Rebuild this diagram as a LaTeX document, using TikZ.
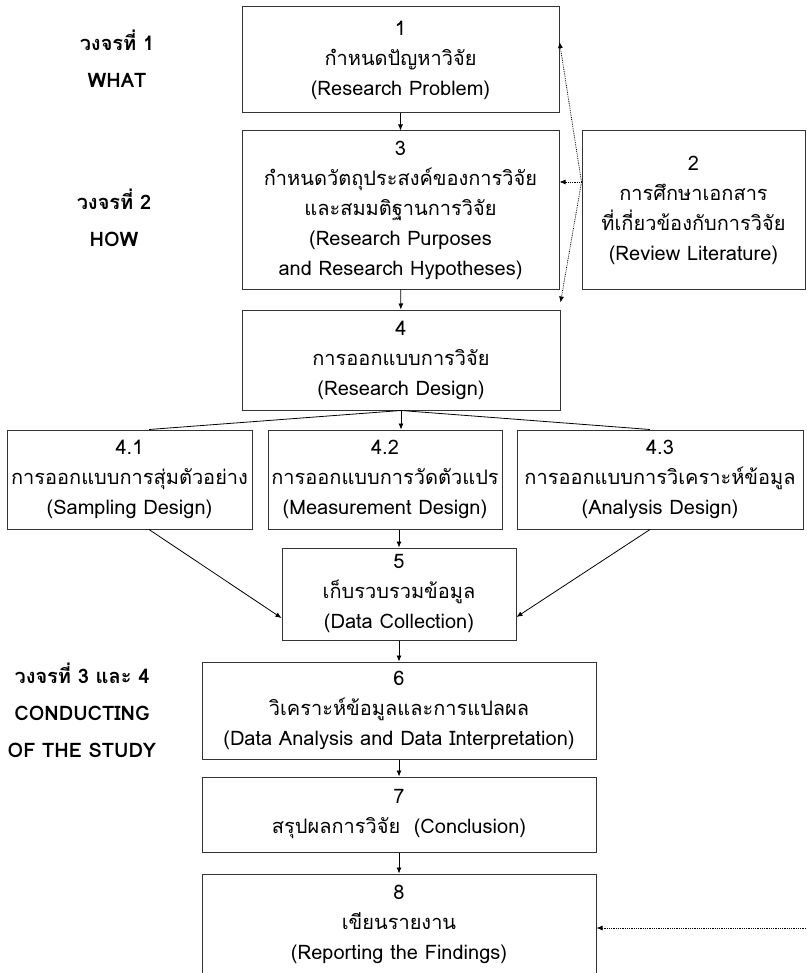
\documentclass[tikz,border=0pt]{standalone}
\usepackage{fontspec}
\setmainfont[Script=Thai]{Loma}
\usetikzlibrary{arrows.meta}

\begin{document}
\begin{tikzpicture}[x=1pt, y=-1pt,
  box/.style={draw=black!80, line width=1pt, align=center, inner sep=0pt,
    font=\fontsize{20}{30}\selectfont},
  lbl/.style={align=center, font=\bfseries\fontsize{20}{37}\selectfont},
  arr/.style={-{Latex[length=6pt,width=5pt]}, line width=0.8pt},
  dotarr/.style={densely dotted, -{Latex[length=6pt,width=5pt]}, line width=0.8pt}]
  \useasboundingbox (0,0) rectangle (806,973);
  % main column
  \node[box, minimum width=317pt, minimum height=106pt] (b1) at (400.5,60)
    {1\\กำหนดปัญหาวิจัย\\(Research Problem)};
  \node[box, minimum width=223pt, minimum height=158pt] (b2) at (693.5,210)
    {2\\การศึกษาเอกสาร\\ที่เกี่ยวข้องกับการวิจัย\\(Review Literature)};
  \node[box, minimum width=317pt, minimum height=158pt] (b3) at (400.5,210)
    {3\\กำหนดวัตถุประสงค์ของการวิจัย\\และสมมติฐานการวิจัย\\(Research Purposes\\and Research Hypotheses)};
  \node[box, minimum width=318pt, minimum height=100pt] (b4) at (401,360)
    {4\\การออกแบบการวิจัย\\(Research Design)};
  \node[box, minimum width=245pt, minimum height=99pt] (b41) at (129.5,479.5)
    {4.1\\การออกแบบการสุ่มตัวอย่าง\\(Sampling Design)};
  \node[box, minimum width=234pt, minimum height=99pt] (b42) at (385,479.5)
    {4.2\\การออกแบบการวัดตัวแปร\\(Measurement Design)};
  \node[box, minimum width=286pt, minimum height=99pt] (b43) at (660,479.5)
    {4.3\\การออกแบบการวิเคราะห์ข้อมูล\\(Analysis Design)};
  \node[box, minimum width=234pt, minimum height=92pt] (b5) at (399,594)
    {5\\เก็บรวบรวมข้อมูล\\(Data Collection)};
  \node[box, minimum width=394pt, minimum height=97pt] (b6) at (399,710.5)
    {6\\วิเคราะห์ข้อมูลและการแปลผล\\(Data Analysis and Data Interpretation)};
  \node[box, minimum width=394pt, minimum height=75pt] (b7) at (399,814.5)
    {7\\สรุปผลการวิจัย~~(Conclusion)};
  \node[box, minimum width=394pt, minimum height=101pt] (b8) at (399,924.5)
    {8\\เขียนรายงาน\\(Reporting the Findings)};
  % cycle labels
  \node[lbl] (c1) at (117,58.5) {วงจรที่ 1\\WHAT};
  \node[lbl] (c2) at (114,217.5) {วงจรที่ 2\\HOW};
  \node[lbl] (c3) at (82,710) {วงจรที่ 3 และ 4\\CONDUCTING\\OF THE STUDY};
  % arrows
  \draw[arr] (b1) -- (b3);
  \draw[arr] (b3) -- (b4);
  \draw[arr] (b4.south) -- (b4.south |- b42.north);
  \draw[line width=0.8pt] (b4.south) -- ([xshift=19.5pt]b41.north);
  \draw[line width=0.8pt] (b4.south) -- ([xshift=-10pt]b43.north);
  \draw[arr] ([xshift=19.5pt]b41.south) -- ([yshift=-24pt]b5.west);
  \draw[arr] (b42.south -| b5.north) -- (b5.north);
  \draw[arr] ([xshift=-10pt]b43.south) -- ([yshift=-23pt]b5.east);
  \draw[arr] (b5) -- (b6);
  \draw[arr] (b6) -- (b7);
  \draw[arr] (b7) -- (b8);
  % literature links
  \coordinate (p2) at ([yshift=28pt]b2.west);
  \draw[dotarr] (p2) -- ([yshift=18pt]b1.east);
  \draw[dotarr] (p2) -- (p2 -| b3.east);
  \draw[dotarr] (p2) -- ([yshift=7pt]b4.north east);
  \coordinate (r8) at (806,928);
  \draw[dotarr] (r8) -- (b8.east |- r8);
\end{tikzpicture}
\end{document}
